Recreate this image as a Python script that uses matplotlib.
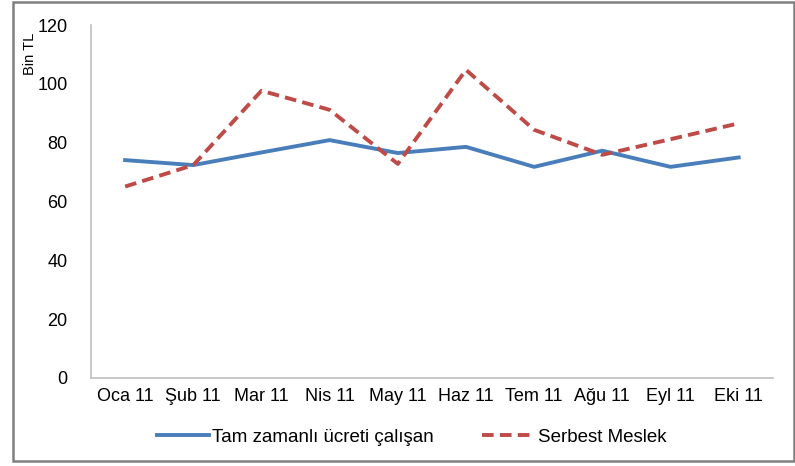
import numpy as np
import matplotlib.pyplot as plt
from matplotlib.patches import Rectangle

plt.rcParams['font.family'] = ['Liberation Sans', 'DejaVu Sans']

months = ['Oca 11', 'Şub 11', 'Mar 11', 'Nis 11', 'May 11',
          'Haz 11', 'Tem 11', 'Ağu 11', 'Eyl 11', 'Eki 11']
tam_zamanli = [74.1, 72.4, 76.7, 80.9, 76.5, 78.6, 71.8, 77.3, 71.8, 75.0]
serbest = [65.1, 72.4, 97.7, 91.2, 72.8, 104.8, 84.4, 75.9, 81.2, 86.6]

fig = plt.figure(figsize=(7.95, 4.66), dpi=100)
ax = fig.add_axes([0.1145, 0.189, 0.8575, 0.757])

x = np.arange(len(months))
ax.plot(x, tam_zamanli, color='#4a7ebb', linewidth=2.8, label='Tam zamanlı ücreti çalışan')
ax.plot(x, serbest, color='#be4b48', linewidth=2.8, linestyle=(0, (3, 1.6)), label='Serbest Meslek')

ax.set_xlim(-0.5, len(months) - 0.5)
ax.set_ylim(0, 120)
ax.set_yticks(range(0, 121, 20))
ax.set_xticks(x)
ax.set_xticklabels(months)
ax.tick_params(axis='both', length=0, labelsize=13, colors='black', pad=7)
ax.tick_params(axis='y', pad=17)

for s in ['top', 'right']:
    ax.spines[s].set_visible(False)
for s in ['left', 'bottom']:
    ax.spines[s].set_color('#bfbfbf')
    ax.spines[s].set_linewidth(1.2)

fig.text(0.038, 0.885, 'Bin TL', rotation=90, fontsize=10.5, ha='center', va='center')

leg = ax.legend(loc='center', bbox_to_anchor=(0.47, -0.168), ncol=2, frameon=False,
                fontsize=13.5, handlelength=2.8, columnspacing=2.6, handletextpad=0.15)

fig.patches.append(Rectangle((13 / 795, 5 / 466), 781 / 795, 459 / 466,
                             transform=fig.transFigure, fill=False,
                             edgecolor='#808080', linewidth=1.8))

fig.savefig('out.png', dpi=100)
